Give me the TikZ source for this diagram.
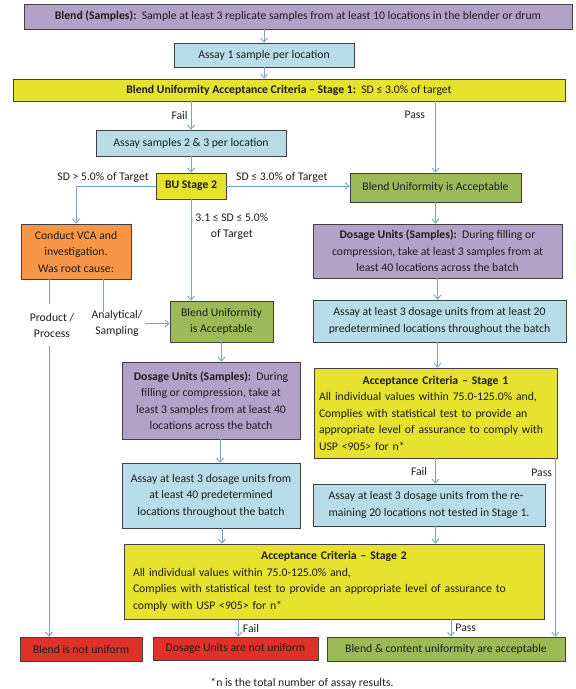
\documentclass[tikz,border=0pt]{standalone}
\usepackage{fontspec}
\setmainfont{Carlito}
\usepackage{tikz}
\usetikzlibrary{calc}
\usetikzlibrary{positioning}
\usetikzlibrary{arrows.meta}
\definecolor{boxpurple}{HTML}{B3A2C7}
\definecolor{boxblue}{HTML}{B7DEE8}
\definecolor{boxyellow}{HTML}{E6E22E}
\definecolor{boxgreen}{HTML}{9BBB59}
\definecolor{boxorange}{HTML}{F79646}
\definecolor{boxred}{HTML}{E0302A}
\definecolor{edgegray}{HTML}{404040}
\definecolor{arrowblue}{HTML}{7F9FCF}
\definecolor{txt}{HTML}{1E1E1E}
\tikzstyle{box} = [draw=edgegray, line width=0.7pt, inner sep=2pt, align=center, text=txt, font=\fontsize{11.7}{16.5}\selectfont]
\tikzstyle{purplebox} = [box, fill=boxpurple]
\tikzstyle{bluebox} = [box, fill=boxblue]
\tikzstyle{yellowbox} = [box, fill=boxyellow]
\tikzstyle{greenbox} = [box, fill=boxgreen]
\tikzstyle{orangebox} = [box, fill=boxorange]
\tikzstyle{redbox} = [box, fill=boxred]
\tikzstyle{arr} = [draw=arrowblue, line width=0.9pt, -{Straight Barb[length=4pt,width=7pt]}]
\tikzstyle{link} = [draw=arrowblue, line width=0.9pt]
\tikzstyle{lbl} = [inner sep=2pt, text=txt, align=center, font=\fontsize{11.7}{16.5}\selectfont]

\begin{document}
\begin{tikzpicture}[x=1pt, y=-1pt]
\useasboundingbox (0,0) rectangle (576,689);
% blend uniformity part
\node[purplebox, minimum width=548pt, minimum height=25pt] (blend) at (298,16.5) {\textbf{Blend (Samples):}\ \ Sample at least 3 replicate samples from at least 10 locations in the blender or drum};
\node[bluebox, minimum width=180pt, minimum height=24pt] (assayone) at (264,55) {Assay 1 sample per location};
\node[yellowbox, minimum width=552pt, minimum height=22pt] (stageone) at (289,90) {\textbf{Blend Uniformity Acceptance Criteria -- Stage 1:}\ \ SD ≤ 3.0\% of target};
\node[bluebox, minimum width=190pt, minimum height=26pt] (assaytwo) at (191,143) {Assay samples 2 \& 3 per location};
\node[yellowbox, minimum width=70pt, minimum height=26pt] (bustage) at (191,186) {\textbf{BU Stage 2}};
\node[greenbox, minimum width=171pt, minimum height=29pt] (buaccR) at (435.5,187.5) {Blend Uniformity is Acceptable};
\node[orangebox, minimum width=110pt, minimum height=55pt] (vca) at (76,251.5) {Conduct VCA and\\investigation.\\Was root cause:};
\node[lbl] (prod) at (52,325.5) {Product /\\Process};
\node[lbl] (anal) at (117,323.5) {Analytical/\\Sampling};
\node[greenbox, minimum width=103pt, minimum height=41pt] (buaccL) at (221.5,321.5) {Blend Uniformity\\is Acceptable};
% dosage units part
\node[purplebox, minimum width=249pt, minimum height=54pt] (dosR) at (437.5,251) {\textbf{Dosage Units (Samples):}\ \ During filling or\\compression, take at least 3 samples from at\\least 40 locations across the batch};
\node[bluebox, minimum width=253pt, minimum height=42pt] (assayR) at (439.5,321) {Assay at least 3 dosage units from at least 20\\predetermined locations throughout the batch};
\node[yellowbox, text width=233pt, inner xsep=5pt, minimum height=90pt, align=left] (acc1) at (435.5,413) {\centering\textbf{Acceptance Criteria -- Stage 1}\par\raggedright All individual values within 75.0-125.0\% and,\\Complies with statistical test to provide an\\appropriate level of assurance to comply with\\USP <905> for n*};
\node[purplebox, minimum width=178pt, minimum height=77pt] (dosL) at (211,400.5) {\textbf{Dosage Units (Samples):}\ \ During\\filling or compression, take at\\least 3 samples from at least 40\\locations across the batch};
\node[bluebox, minimum width=178pt, minimum height=65pt] (assayL) at (211,495.5) {Assay at least 3 dosage units from\\at least 40 predetermined\\locations throughout the batch};
\node[bluebox, minimum width=232pt, minimum height=42pt, align=left] (assayRem) at (429,505) {Assay at least 3 dosage units from the re-\\maining 20 locations not tested in Stage 1.};
\node[yellowbox, text width=402pt, inner xsep=9pt, minimum height=75pt, align=left] (acc2) at (334,581.5) {\centering\textbf{Acceptance Criteria -- Stage 2}\par\raggedright All individual values within 75.0-125.0\% and,\\Complies with statistical test to provide an appropriate level of assurance to\\comply with USP <905> for n*};
% results
\node[redbox, minimum width=122pt, minimum height=24pt] (notuni) at (81,649) {Blend is not uniform};
\node[redbox, minimum width=165pt, minimum height=23pt] (dunot) at (235.5,648.5) {Dosage Units are not uniform};
\node[greenbox, minimum width=238pt, minimum height=24pt] (final) at (446,649) {Blend \& content uniformity are acceptable};
\node[lbl] (note) at (302,683) {*n is the total number of assay results.};
% connectors
\draw[arr] (assayone.north |- blend.south) -- (assayone.north);
\draw[arr] (assayone.south) -- (assayone.south |- stageone.north);
\draw[arr] (assaytwo.north |- stageone.south) -- node[lbl, left=1pt] {Fail} (assaytwo.north);
\draw[arr] (buaccR.north |- stageone.south) -- node[lbl, pos=0.19, left=8pt] {Pass} (buaccR.north);
\draw[arr] (assaytwo.south) -- (bustage.north);
\draw[arr] (bustage.west) -| node[lbl, pos=0.33, above=1pt] {SD > 5.0\% of Target} (vca.north);
\draw[arr] (bustage.east) -- node[lbl, pos=0.45, above=1pt] {SD ≤ 3.0\% of Target} (bustage.east -| buaccR.west);
\draw[arr] (bustage.south) -- node[lbl, pos=0.27, right=2pt] {3.1 ≤ SD ≤ 5.0\%\\of Target} (bustage.south |- buaccL.north);
\coordinate (prodtop) at (49,304);
\coordinate (prodbot) at (49,346);
\coordinate (analtop) at (103,312);
\draw[link] (vca.south -| prodtop) -- (prodtop);
\draw[link] (vca.south -| analtop) -- (analtop);
\draw[arr] (anal.east) -- (anal.east -| buaccL.west);
\draw[arr] (prodbot) -- (prodbot |- notuni.north);
\draw[arr] (buaccL.south) -- (buaccL.south |- dosL.north);
\draw[arr] ($(dosL.south)+(9,0)$) coordinate (dl) -- (dl |- assayL.north);
\draw[arr] ($(assayL.south)+(11,0)$) coordinate (al) -- (al |- acc2.north);
\draw[arr] (buaccR.south) -- (buaccR.south |- dosR.north);
\draw[arr] (dosR.south) -- (dosR.south |- assayR.north);
\draw[arr] (dosR.south |- assayR.south) -- (dosR.south |- acc1.north);
\draw[arr] (acc1.south) -- node[lbl, left=6pt] {Fail} (acc1.south |- assayRem.north);
\draw[arr] ($(acc1.south east)+(-2,0)$) coordinate (ps) -- node[lbl, pos=0.08, left=1pt] {Pass} (ps |- final.north);
\draw[arr] (assayRem.south -| acc1.south) -- (acc1.south |- acc2.north);
\draw[arr] ($(dunot.north |- acc2.south)+(3,0)$) coordinate (df) -- node[lbl, right=2pt] {Fail} (df |- dunot.north);
\draw[arr] ($(final.north |- acc2.south)+(5,0)$) coordinate (fp) -- node[lbl, right=2pt] {Pass} (fp |- final.north);
\end{tikzpicture}
\end{document}
